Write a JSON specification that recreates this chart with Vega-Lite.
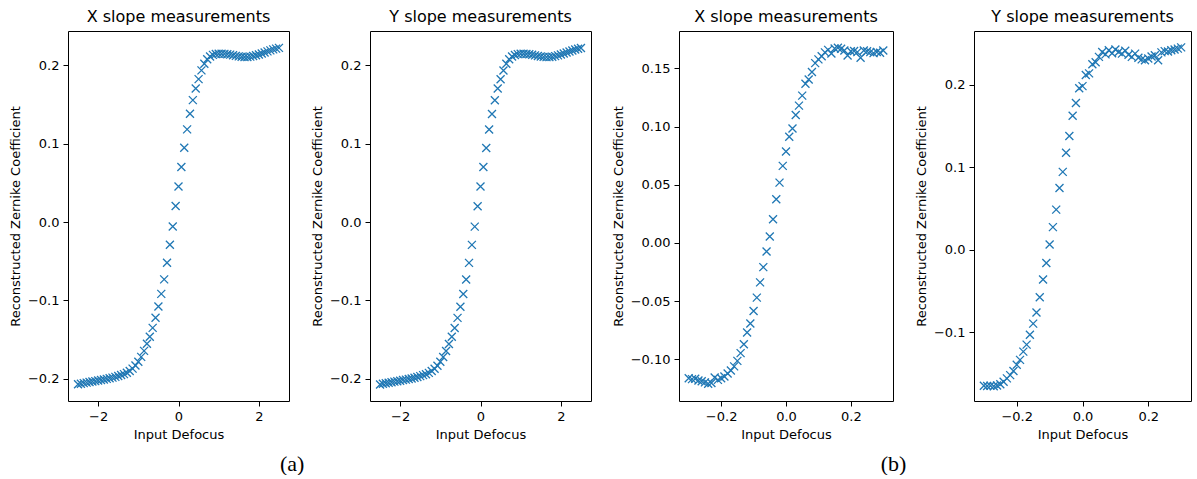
{
  "$schema": "https://vega.github.io/schema/vega-lite/v6.json",
  "padding": {"left": 8, "top": 8, "right": 0, "bottom": 0},
  "background": "white",
  "datasets": {
    "p1": [
      {"x": -2.5, "y": -0.2070}, {"x": -2.4286, "y": -0.2062}, {"x": -2.3571, "y": -0.2055}, {"x": -2.2857, "y": -0.2048},
      {"x": -2.2143, "y": -0.2041}, {"x": -2.1429, "y": -0.2035}, {"x": -2.0714, "y": -0.2029}, {"x": -2.0, "y": -0.2022},
      {"x": -1.9286, "y": -0.2015}, {"x": -1.8571, "y": -0.2008}, {"x": -1.7857, "y": -0.2001}, {"x": -1.7143, "y": -0.1993},
      {"x": -1.6429, "y": -0.1985}, {"x": -1.5714, "y": -0.1975}, {"x": -1.5, "y": -0.1963}, {"x": -1.4286, "y": -0.1952},
      {"x": -1.3571, "y": -0.1940}, {"x": -1.2857, "y": -0.1922}, {"x": -1.2143, "y": -0.1900}, {"x": -1.1429, "y": -0.1870},
      {"x": -1.0714, "y": -0.1830}, {"x": -1.0, "y": -0.1782}, {"x": -0.9286, "y": -0.1720}, {"x": -0.8571, "y": -0.1643},
      {"x": -0.7857, "y": -0.1553}, {"x": -0.7143, "y": -0.1462}, {"x": -0.6429, "y": -0.1350}, {"x": -0.5714, "y": -0.1220},
      {"x": -0.5, "y": -0.1077}, {"x": -0.4286, "y": -0.0916}, {"x": -0.3571, "y": -0.0730}, {"x": -0.2857, "y": -0.0518},
      {"x": -0.2143, "y": -0.0288}, {"x": -0.1429, "y": -0.0055}, {"x": -0.0714, "y": 0.0206}, {"x": 0.0, "y": 0.0456},
      {"x": 0.0714, "y": 0.0705}, {"x": 0.1429, "y": 0.0949}, {"x": 0.2143, "y": 0.1184}, {"x": 0.2857, "y": 0.1383},
      {"x": 0.3571, "y": 0.1558}, {"x": 0.4286, "y": 0.1707}, {"x": 0.5, "y": 0.1826}, {"x": 0.5714, "y": 0.1937},
      {"x": 0.6429, "y": 0.2022}, {"x": 0.7143, "y": 0.2080}, {"x": 0.7857, "y": 0.2115}, {"x": 0.8571, "y": 0.2135},
      {"x": 0.9286, "y": 0.2146}, {"x": 1.0, "y": 0.2150}, {"x": 1.0714, "y": 0.2150}, {"x": 1.1429, "y": 0.2148},
      {"x": 1.2143, "y": 0.2144}, {"x": 1.2857, "y": 0.2138}, {"x": 1.3571, "y": 0.2130}, {"x": 1.4286, "y": 0.2122},
      {"x": 1.5, "y": 0.2116}, {"x": 1.5714, "y": 0.2111}, {"x": 1.6429, "y": 0.2108}, {"x": 1.7143, "y": 0.2109},
      {"x": 1.7857, "y": 0.2113}, {"x": 1.8571, "y": 0.2120}, {"x": 1.9286, "y": 0.2130}, {"x": 2.0, "y": 0.2141},
      {"x": 2.0714, "y": 0.2153}, {"x": 2.1429, "y": 0.2166}, {"x": 2.2143, "y": 0.2180}, {"x": 2.2857, "y": 0.2193},
      {"x": 2.3571, "y": 0.2205}, {"x": 2.4286, "y": 0.2215}, {"x": 2.5, "y": 0.2225}
    ],
    "p2": [
      {"x": -2.5, "y": -0.2072}, {"x": -2.4286, "y": -0.2063}, {"x": -2.3571, "y": -0.2057}, {"x": -2.2857, "y": -0.2049},
      {"x": -2.2143, "y": -0.2043}, {"x": -2.1429, "y": -0.2036}, {"x": -2.0714, "y": -0.2030}, {"x": -2.0, "y": -0.2024},
      {"x": -1.9286, "y": -0.2016}, {"x": -1.8571, "y": -0.2010}, {"x": -1.7857, "y": -0.2002}, {"x": -1.7143, "y": -0.1995},
      {"x": -1.6429, "y": -0.1986}, {"x": -1.5714, "y": -0.1977}, {"x": -1.5, "y": -0.1965}, {"x": -1.4286, "y": -0.1953},
      {"x": -1.3571, "y": -0.1941}, {"x": -1.2857, "y": -0.1924}, {"x": -1.2143, "y": -0.1901}, {"x": -1.1429, "y": -0.1871},
      {"x": -1.0714, "y": -0.1832}, {"x": -1.0, "y": -0.1783}, {"x": -0.9286, "y": -0.1722}, {"x": -0.8571, "y": -0.1645},
      {"x": -0.7857, "y": -0.1555}, {"x": -0.7143, "y": -0.1463}, {"x": -0.6429, "y": -0.1352}, {"x": -0.5714, "y": -0.1222},
      {"x": -0.5, "y": -0.1079}, {"x": -0.4286, "y": -0.0918}, {"x": -0.3571, "y": -0.0732}, {"x": -0.2857, "y": -0.0520},
      {"x": -0.2143, "y": -0.0290}, {"x": -0.1429, "y": -0.0057}, {"x": -0.0714, "y": 0.0204}, {"x": 0.0, "y": 0.0454},
      {"x": 0.0714, "y": 0.0703}, {"x": 0.1429, "y": 0.0947}, {"x": 0.2143, "y": 0.1182}, {"x": 0.2857, "y": 0.1381},
      {"x": 0.3571, "y": 0.1557}, {"x": 0.4286, "y": 0.1706}, {"x": 0.5, "y": 0.1825}, {"x": 0.5714, "y": 0.1936},
      {"x": 0.6429, "y": 0.2021}, {"x": 0.7143, "y": 0.2079}, {"x": 0.7857, "y": 0.2114}, {"x": 0.8571, "y": 0.2134},
      {"x": 0.9286, "y": 0.2145}, {"x": 1.0, "y": 0.2149}, {"x": 1.0714, "y": 0.2149}, {"x": 1.1429, "y": 0.2147},
      {"x": 1.2143, "y": 0.2143}, {"x": 1.2857, "y": 0.2137}, {"x": 1.3571, "y": 0.2129}, {"x": 1.4286, "y": 0.2121},
      {"x": 1.5, "y": 0.2115}, {"x": 1.5714, "y": 0.2110}, {"x": 1.6429, "y": 0.2107}, {"x": 1.7143, "y": 0.2108},
      {"x": 1.7857, "y": 0.2112}, {"x": 1.8571, "y": 0.2119}, {"x": 1.9286, "y": 0.2129}, {"x": 2.0, "y": 0.2140},
      {"x": 2.0714, "y": 0.2152}, {"x": 2.1429, "y": 0.2165}, {"x": 2.2143, "y": 0.2179}, {"x": 2.2857, "y": 0.2192},
      {"x": 2.3571, "y": 0.2204}, {"x": 2.4286, "y": 0.2214}, {"x": 2.5, "y": 0.2224}
    ],
    "p3": [
      {"x": -0.30, "y": -0.1165}, {"x": -0.29, "y": -0.1172}, {"x": -0.28, "y": -0.1168}, {"x": -0.27, "y": -0.1183},
      {"x": -0.26, "y": -0.1190}, {"x": -0.25, "y": -0.1200}, {"x": -0.24, "y": -0.1212}, {"x": -0.23, "y": -0.1205},
      {"x": -0.22, "y": -0.1158}, {"x": -0.21, "y": -0.1178}, {"x": -0.20, "y": -0.1165}, {"x": -0.19, "y": -0.1150},
      {"x": -0.18, "y": -0.1123}, {"x": -0.17, "y": -0.1098}, {"x": -0.16, "y": -0.1062}, {"x": -0.15, "y": -0.1015},
      {"x": -0.14, "y": -0.0948}, {"x": -0.13, "y": -0.0872}, {"x": -0.12, "y": -0.0771}, {"x": -0.11, "y": -0.0694},
      {"x": -0.10, "y": -0.0586}, {"x": -0.09, "y": -0.0471}, {"x": -0.08, "y": -0.0340}, {"x": -0.07, "y": -0.0209},
      {"x": -0.06, "y": -0.0075}, {"x": -0.05, "y": 0.0054}, {"x": -0.04, "y": 0.0203}, {"x": -0.03, "y": 0.0375},
      {"x": -0.02, "y": 0.0518}, {"x": -0.01, "y": 0.0662}, {"x": 0.00, "y": 0.0785}, {"x": 0.01, "y": 0.0912},
      {"x": 0.02, "y": 0.0984}, {"x": 0.03, "y": 0.1100}, {"x": 0.04, "y": 0.1180}, {"x": 0.05, "y": 0.1266},
      {"x": 0.06, "y": 0.1368}, {"x": 0.07, "y": 0.1405}, {"x": 0.08, "y": 0.1469}, {"x": 0.09, "y": 0.1546},
      {"x": 0.10, "y": 0.1578}, {"x": 0.11, "y": 0.1605}, {"x": 0.12, "y": 0.1638}, {"x": 0.13, "y": 0.1660},
      {"x": 0.14, "y": 0.1628}, {"x": 0.15, "y": 0.1672}, {"x": 0.16, "y": 0.1678}, {"x": 0.17, "y": 0.1670},
      {"x": 0.18, "y": 0.1655}, {"x": 0.19, "y": 0.1612}, {"x": 0.20, "y": 0.1648}, {"x": 0.21, "y": 0.1650},
      {"x": 0.22, "y": 0.1640}, {"x": 0.23, "y": 0.1592}, {"x": 0.24, "y": 0.1655}, {"x": 0.25, "y": 0.1648},
      {"x": 0.26, "y": 0.1640}, {"x": 0.27, "y": 0.1632}, {"x": 0.28, "y": 0.1642}, {"x": 0.29, "y": 0.1635},
      {"x": 0.30, "y": 0.1655}
    ],
    "p4": [
      {"x": -0.30, "y": -0.1650}, {"x": -0.29, "y": -0.1652}, {"x": -0.28, "y": -0.1648}, {"x": -0.27, "y": -0.1655},
      {"x": -0.26, "y": -0.1645}, {"x": -0.25, "y": -0.1630}, {"x": -0.24, "y": -0.1600}, {"x": -0.23, "y": -0.1560},
      {"x": -0.22, "y": -0.1520}, {"x": -0.21, "y": -0.1470}, {"x": -0.20, "y": -0.1395}, {"x": -0.19, "y": -0.1335},
      {"x": -0.18, "y": -0.1235}, {"x": -0.17, "y": -0.1150}, {"x": -0.16, "y": -0.1030}, {"x": -0.15, "y": -0.0895},
      {"x": -0.14, "y": -0.0760}, {"x": -0.13, "y": -0.0575}, {"x": -0.12, "y": -0.0360}, {"x": -0.11, "y": -0.0160},
      {"x": -0.10, "y": 0.0065}, {"x": -0.09, "y": 0.0275}, {"x": -0.08, "y": 0.0487}, {"x": -0.07, "y": 0.0750},
      {"x": -0.06, "y": 0.0945}, {"x": -0.05, "y": 0.1178}, {"x": -0.04, "y": 0.1380}, {"x": -0.03, "y": 0.1626},
      {"x": -0.02, "y": 0.1780}, {"x": -0.01, "y": 0.1960}, {"x": 0.00, "y": 0.1985}, {"x": 0.01, "y": 0.2120},
      {"x": 0.02, "y": 0.2140}, {"x": 0.03, "y": 0.2250}, {"x": 0.04, "y": 0.2275}, {"x": 0.05, "y": 0.2340},
      {"x": 0.06, "y": 0.2400}, {"x": 0.07, "y": 0.2370}, {"x": 0.08, "y": 0.2420}, {"x": 0.09, "y": 0.2385},
      {"x": 0.10, "y": 0.2430}, {"x": 0.11, "y": 0.2400}, {"x": 0.12, "y": 0.2380}, {"x": 0.13, "y": 0.2415},
      {"x": 0.14, "y": 0.2365}, {"x": 0.15, "y": 0.2340}, {"x": 0.16, "y": 0.2380}, {"x": 0.17, "y": 0.2330},
      {"x": 0.18, "y": 0.2310}, {"x": 0.19, "y": 0.2300}, {"x": 0.20, "y": 0.2320}, {"x": 0.21, "y": 0.2345},
      {"x": 0.22, "y": 0.2360}, {"x": 0.23, "y": 0.2300}, {"x": 0.24, "y": 0.2395}, {"x": 0.25, "y": 0.2410},
      {"x": 0.26, "y": 0.2405}, {"x": 0.27, "y": 0.2420}, {"x": 0.28, "y": 0.2430}, {"x": 0.29, "y": 0.2440},
      {"x": 0.30, "y": 0.2455}
    ]
  },
  "spacing": 19,
  "hconcat": [
    {
      "title": {"text": "(a)", "orient": "bottom", "font": "Liberation Serif", "fontSize": 22, "offset": 12, "anchor": "middle", "dx": -8},
      "spacing": 20,
      "hconcat": [
        {
          "width": 221, "height": 370,
          "title": "X slope measurements",
          "data": {"name": "p1"},
          "mark": {"type": "point", "shape": "M-1,-1L1,1M-1,1L1,-1", "filled": false, "stroke": "#1f77b4", "strokeWidth": 1.3, "size": 64, "opacity": 1},
          "encoding": {
            "x": {"field": "x", "type": "quantitative", "scale": {"domain": [-2.75, 2.75], "nice": false, "zero": false}, "axis": {"title": "Input Defocus", "values": [-2, 0, 2], "format": "d"}},
            "y": {"field": "y", "type": "quantitative", "scale": {"domain": [-0.2283, 0.244], "nice": false, "zero": false}, "axis": {"title": "Reconstructed Zernike Coefficient", "values": [-0.2, -0.1, 0, 0.1, 0.2], "format": ".1f"}}
          }
        },
        {
          "width": 221, "height": 370,
          "title": "Y slope measurements",
          "data": {"name": "p2"},
          "mark": {"type": "point", "shape": "M-1,-1L1,1M-1,1L1,-1", "filled": false, "stroke": "#1f77b4", "strokeWidth": 1.3, "size": 64, "opacity": 1},
          "encoding": {
            "x": {"field": "x", "type": "quantitative", "scale": {"domain": [-2.75, 2.75], "nice": false, "zero": false}, "axis": {"title": "Input Defocus", "values": [-2, 0, 2], "format": "d"}},
            "y": {"field": "y", "type": "quantitative", "scale": {"domain": [-0.2283, 0.244], "nice": false, "zero": false}, "axis": {"title": "Reconstructed Zernike Coefficient", "values": [-0.2, -0.1, 0, 0.1, 0.2], "format": ".1f"}}
          }
        }
      ]
    },
    {
      "title": {"text": "(b)", "orient": "bottom", "font": "Liberation Serif", "fontSize": 22, "offset": 12, "anchor": "middle", "dx": -8},
      "spacing": 20,
      "hconcat": [
        {
          "width": 214, "height": 370,
          "title": "X slope measurements",
          "data": {"name": "p3"},
          "mark": {"type": "point", "shape": "M-1,-1L1,1M-1,1L1,-1", "filled": false, "stroke": "#1f77b4", "strokeWidth": 1.3, "size": 64, "opacity": 1},
          "encoding": {
            "x": {"field": "x", "type": "quantitative", "scale": {"domain": [-0.33, 0.33], "nice": false, "zero": false}, "axis": {"title": "Input Defocus", "values": [-0.2, 0, 0.2], "format": ".1f"}},
            "y": {"field": "y", "type": "quantitative", "scale": {"domain": [-0.136, 0.1822], "nice": false, "zero": false}, "axis": {"title": "Reconstructed Zernike Coefficient", "values": [-0.1, -0.05, 0, 0.05, 0.1, 0.15], "format": ".2f"}}
          }
        },
        {
          "width": 217, "height": 370,
          "title": "Y slope measurements",
          "data": {"name": "p4"},
          "mark": {"type": "point", "shape": "M-1,-1L1,1M-1,1L1,-1", "filled": false, "stroke": "#1f77b4", "strokeWidth": 1.3, "size": 64, "opacity": 1},
          "encoding": {
            "x": {"field": "x", "type": "quantitative", "scale": {"domain": [-0.33, 0.33], "nice": false, "zero": false}, "axis": {"title": "Input Defocus", "values": [-0.2, 0, 0.2], "format": ".1f"}},
            "y": {"field": "y", "type": "quantitative", "scale": {"domain": [-0.1834, 0.2654], "nice": false, "zero": false}, "axis": {"title": "Reconstructed Zernike Coefficient", "values": [-0.1, 0, 0.1, 0.2], "format": ".1f"}}
          }
        }
      ]
    }
  ],
  "config": {
    "font": "DejaVu Sans",
    "view": {"stroke": "#000000", "strokeWidth": 1},
    "axis": {
      "domain": false, "grid": false,
      "tickColor": "#000000", "tickSize": 5, "tickWidth": 1,
      "labelColor": "#000000", "labelFontSize": 13, "labelFont": "DejaVu Sans", "labelPadding": 4,
      "titleFontSize": 13, "titleFont": "DejaVu Sans", "titleFontWeight": "normal", "titleColor": "#000000", "titlePadding": 5
    },
    "title": {"fontSize": 16, "font": "DejaVu Sans", "fontWeight": "normal", "color": "#000000", "offset": 6}
  }
}
